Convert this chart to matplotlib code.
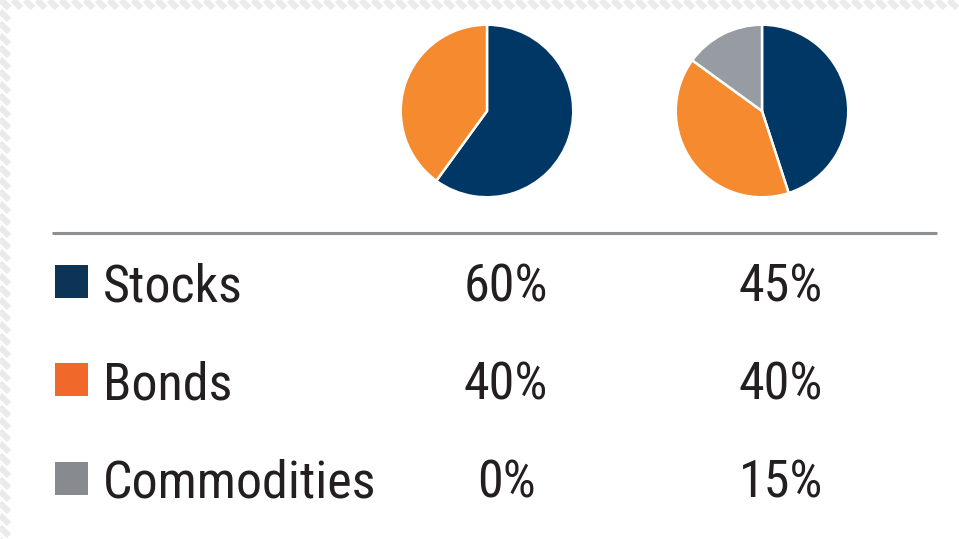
import matplotlib
matplotlib.use("Agg")
import matplotlib.pyplot as plt
from matplotlib import font_manager as fm
from matplotlib.patches import Rectangle
from matplotlib.collections import LineCollection
import numpy as np

# Allocation data
categories = ["Stocks", "Bonds", "Commodities"]
portfolio_a = [60, 40, 0]
portfolio_b = [45, 40, 15]

pie_colors = ["#003764", "#f58a2e", "#979ca2"]
key_colors = ["#0c3457", "#f0682a", "#878b90"]
text_color = "#231f20"


def pick_font(candidates):
    for name in candidates:
        try:
            fm.findfont(fm.FontProperties(family=name), fallback_to_default=False)
            return name
        except Exception:
            continue
    return "DejaVu Sans"


font = pick_font(["Liberation Sans Narrow", "DejaVu Sans Condensed", "Roboto Condensed", "Liberation Sans"])

W, H = 959, 539
fig = plt.figure(figsize=(W / 100, H / 100), dpi=100)
fig.patch.set_facecolor("white")

bg = fig.add_axes([0, 0, 1, 1])
bg.set_xlim(0, W)
bg.set_ylim(H, 0)
bg.axis("off")

# striped frame along the top and left edges (diagonal lines x - y = const)
top_h, left_w = 8, 9
segs = []
for o in np.arange(-H, W + 20, 12):
    segs.append([(o, 0), (o + top_h, top_h)])          # top strip
    segs.append([(0, -o), (left_w, left_w - o)])        # left strip
lc = LineCollection(segs, colors="#ebebeb", linewidths=4.5, capstyle="butt")
bg.add_collection(lc)
bg.add_patch(Rectangle((left_w, top_h), W, H, facecolor="white", edgecolor="none", zorder=1.5))

# divider
bg.plot([52, 937], [233, 233], color="#8c9196", lw=2.2, solid_capstyle="butt", zorder=3)

# key rows
row_base = [301, 399, 498]
col_x = [506, 781]
fs = 37.5
for i, cat in enumerate(categories):
    yb = row_base[i]
    bg.add_patch(Rectangle((55, yb - 36), 33, 33, facecolor=key_colors[i], edgecolor="none", zorder=3))
    bg.text(103, yb, cat, fontsize=fs, family=font, color=text_color, va="baseline", ha="left", zorder=3)
    for cx, vals in zip(col_x, [portfolio_a, portfolio_b]):
        bg.text(cx, yb, f"{vals[i]}%", fontsize=fs, family=font, color=text_color,
                va="baseline", ha="center", zorder=3)

# pies
for cx, vals in [(487, portfolio_a), (762, portfolio_b)]:
    r = 88
    pax = fig.add_axes([(cx - r) / W, (H - 111 - r) / H, 2 * r / W, 2 * r / H])
    data = [v for v in vals if v > 0]
    cols = [c for v, c in zip(vals, pie_colors) if v > 0]
    pax.pie(data, colors=cols, startangle=90, counterclock=False, radius=1.0,
            wedgeprops=dict(edgecolor="white", linewidth=1.8))
    pax.set_xlim(-1.02, 1.02)
    pax.set_ylim(-1.02, 1.02)
    pax.set_aspect("equal")
    pax.axis("off")

fig.savefig("out.png", dpi=100, facecolor="white")
